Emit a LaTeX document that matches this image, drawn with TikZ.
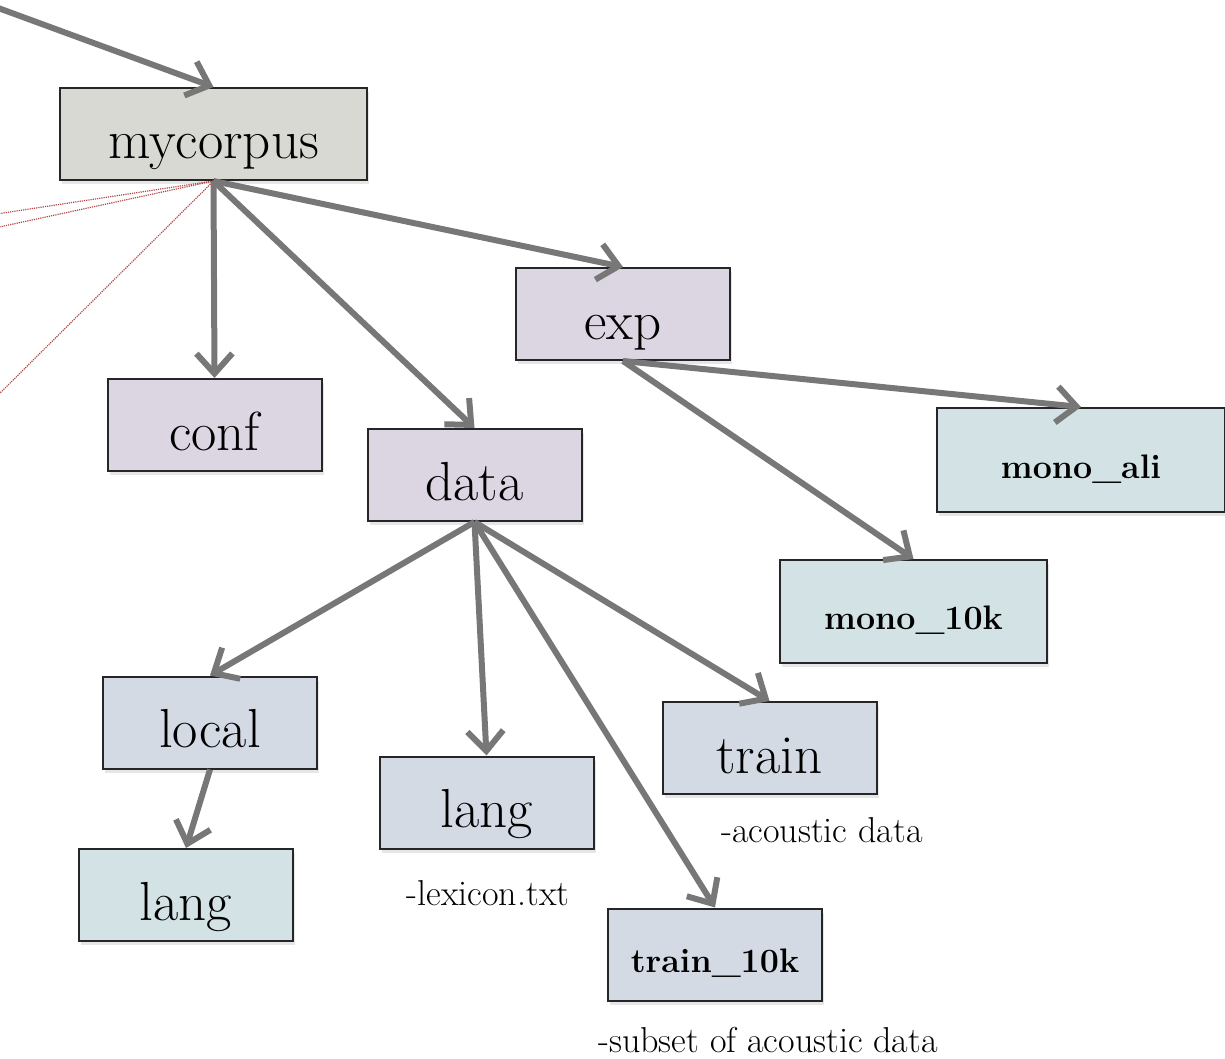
\documentclass[tikz,border=0pt]{standalone}
\usetikzlibrary{arrows.meta,shadows}
\definecolor{corpusgray}{HTML}{D8D9D2}
\definecolor{dirlilac}{HTML}{DCD6E3}
\definecolor{dirblue}{HTML}{D3DAE4}
\definecolor{dircyan}{HTML}{D3E2E5}
\definecolor{arrowgray}{HTML}{777777}
\definecolor{linkred}{HTML}{B04848}

\begin{document}
\begin{tikzpicture}[x=1pt, y=-1pt,
		dirbox/.style={draw=black!85, line width=2pt, minimum width=214pt, minimum height=92pt, inner sep=0pt,
			text height=50pt, text depth=0pt,
			drop shadow={shadow xshift=2pt, shadow yshift=-4pt, opacity=0.2}, font=\fontsize{55}{60}\selectfont},
		boldbox/.style={dirbox, text height=36pt, font=\fontsize{34}{40}\selectfont\bfseries},
		note/.style={font=\fontsize{36}{42}\selectfont},
		link/.style={draw=arrowgray, line width=6pt, -{Straight Barb[length=20pt, width=36pt]}},
		ref/.style={draw=linkred, line width=1.2pt, densely dotted}]
		\useasboundingbox (0, 0) rectangle (1225, 1059);
		\node[dirbox, fill=corpusgray, minimum width=307pt] (mycorpus) at (213.5, 134) {mycorpus};
		\node[dirbox, fill=dirlilac] (conf) at (214.5, 425) {conf};
		\node[dirbox, fill=dirlilac] (exp) at (623, 314) {exp};
		\node[dirbox, fill=dirlilac] (data) at (474.5, 475) {data};
		\node[boldbox, fill=dircyan, minimum width=288pt, minimum height=104pt] (monoali) at (1081, 460) {mono\_ali};
		\node[boldbox, fill=dircyan, minimum width=267pt, minimum height=103pt] (monotenk) at (913.5, 611.5) {mono\_10k};
		\node[dirbox, fill=dirblue] (local) at (210, 722.5) {local};
		\node[dirbox, fill=dircyan] (langlocal) at (186, 895) {lang};
		\node[dirbox, fill=dirblue] (lang) at (486.5, 802.5) {lang};
		\node[dirbox, fill=dirblue] (train) at (769.5, 748) {train};
		\node[boldbox, fill=dirblue] (traintenk) at (715, 954.5) {train\_10k};
		\node[note] (lexnote) at (488, 893) {-lexicon.txt};
		\node[note] (trainnote) at (822, 830) {-acoustic data};
		\node[note] (subsetnote) at (768, 1040) {-subset of acoustic data};
		\coordinate (parent) at (-10, 5);
		\coordinate (refa) at (-10, 215);
		\coordinate (refb) at (-10, 229);
		\coordinate (refc) at (-10, 403);
		\draw[ref] (mycorpus.south) -- (refa);
		\draw[ref] (mycorpus.south) -- (refb);
		\draw[ref] (mycorpus.south) -- (refc);
		\draw[link] (parent) -- (mycorpus.north);
		\draw[link] (mycorpus.south) -- (conf.north);
		\draw[link] (mycorpus.south) -- (data.north);
		\draw[link] (mycorpus.south) -- (exp.north);
		\draw[link] (exp.south) -- (monoali.north);
		\draw[link] (exp.south) -- (monotenk.north);
		\draw[link] (data.south) -- (local.north);
		\draw[link] (data.south) -- (lang.north);
		\draw[link] (data.south) -- (train.north);
		\draw[link] (data.south) -- (traintenk.north);
		\draw[link] (local.south) -- (langlocal.north);
	\end{tikzpicture}
\end{document}
